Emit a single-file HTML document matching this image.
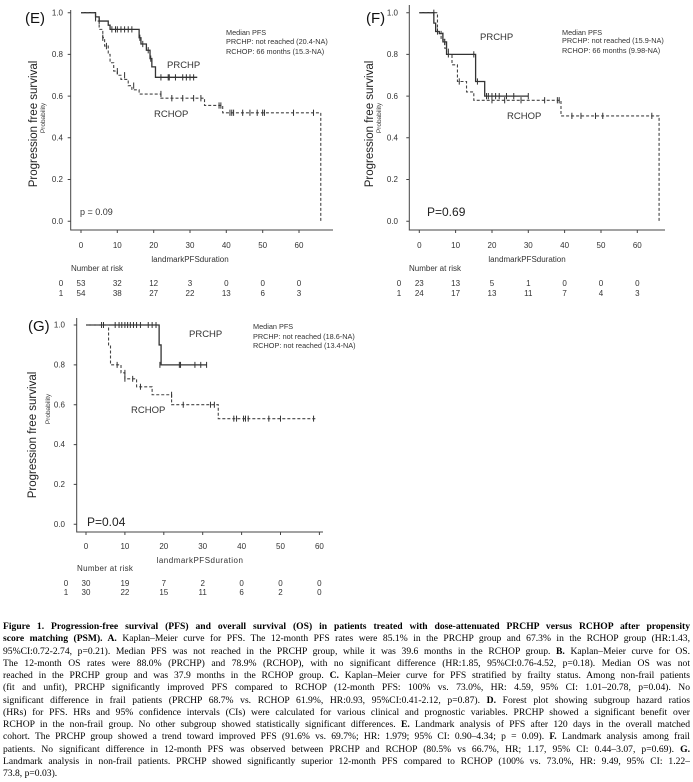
<!DOCTYPE html>
<html><head><meta charset="utf-8">
<style>
body{margin:0;background:#fff;width:693px;height:782px;overflow:hidden;position:relative;font-family:"Liberation Sans",sans-serif}
svg{position:absolute;left:0;top:0}
.cap{position:absolute;left:3px;top:621px;width:687px;font-family:"Liberation Serif",serif;font-size:9.6px;line-height:12.25px;color:#000}
.cap div{text-align:justify;text-align-last:justify;white-space:nowrap;overflow:hidden}
.cap div.l{text-align-last:left}
</style></head><body>
<svg width="693" height="782" viewBox="0 0 693 782" font-family="Liberation Sans, sans-serif">
<defs>
<style>
.ax{stroke:#444;stroke-width:1;fill:none}
.s{stroke:#333;stroke-width:1.3;fill:none;vector-effect:non-scaling-stroke}
.d{stroke:#444;stroke-width:1.1;fill:none;stroke-dasharray:3 2;vector-effect:non-scaling-stroke}
.c{stroke:#333;stroke-width:1;fill:none;vector-effect:non-scaling-stroke}
.t{font-size:8px;fill:#333}
.m{font-size:7.3px;fill:#333}
.lb{font-size:9.5px;fill:#333}
</style>
</defs>

<!-- ===== Panel E ===== -->
<text x="25" y="23" font-size="15" fill="#111">(E)</text>
<path class="ax" d="M70.7 10 V230 H333 M70.7 12.7 h-3 M70.7 54.4 h-3 M70.7 96.1 h-3 M70.7 137.8 h-3 M70.7 179.5 h-3 M70.7 221.2 h-3 M81 230 v3 M117.3 230 v3 M153.7 230 v3 M190 230 v3 M226.3 230 v3 M262.7 230 v3 M299 230 v3"/>
<g class="t" text-anchor="end"><text x="63" y="15.5">1.0</text><text x="63" y="57">0.8</text><text x="63" y="99">0.6</text><text x="63" y="140.5">0.4</text><text x="63" y="182">0.2</text><text x="63" y="224">0.0</text></g>
<g class="t" text-anchor="middle"><text x="81" y="248">0</text><text x="117.3" y="248">10</text><text x="153.7" y="248">20</text><text x="190" y="248">30</text><text x="226.3" y="248">40</text><text x="262.7" y="248">50</text><text x="299" y="248">60</text>
<text x="190" y="262">landmarkPFSduration</text>
<text x="61" y="286">0</text><text x="81" y="286">53</text><text x="117.3" y="286">32</text><text x="153.7" y="286">12</text><text x="190" y="286">3</text><text x="226.3" y="286">0</text><text x="262.7" y="286">0</text><text x="299" y="286">0</text>
<text x="61" y="296">1</text><text x="81" y="296">54</text><text x="117.3" y="296">38</text><text x="153.7" y="296">27</text><text x="190" y="296">22</text><text x="226.3" y="296">13</text><text x="262.7" y="296">6</text><text x="299" y="296">3</text></g>
<text x="71" y="271" class="t">Number at risk</text>
<text transform="translate(37,124) rotate(-90)" font-size="11.5" fill="#222" text-anchor="middle">Progression free survival</text>
<text transform="translate(45,118) rotate(-90)" font-size="6.5" fill="#444" text-anchor="middle">Probability</text>
<g class="m"><text x="226" y="35">Median PFS</text><text x="226" y="44">PRCHP: not reached (20.4-NA)</text><text x="226" y="54">RCHOP: 66 months  (15.3-NA)</text></g>
<text x="167" y="68" class="lb">PRCHP</text><text x="154" y="117" class="lb">RCHOP</text>
<text x="80" y="215" font-size="9" fill="#333">p = 0.09</text>
<g transform="translate(81,221.2) scale(3.633,-208.5)">
<path class="s" d="M0 1 H4 V0.98 H5 V0.96 H7.5 V0.94 H8 V0.92 H16 V0.88 H16.5 V0.85 H18 V0.82 H19 V0.78 H19.5 V0.74 H20.5 V0.69 H32"/>
<path class="d" d="M0 1 H4 V0.96 H5 V0.92 H6 V0.88 H6.5 V0.84 H7.5 V0.8 H8 V0.76 H9 V0.72 H10 V0.7 H11 V0.68 H13 V0.65 H14 V0.63 H16 V0.61 H17 V0.61 H22 V0.59 H34 V0.555 H39 V0.52 H66 V0"/>
<path class="c" d="M4 0.965V0.995 M5 0.945V0.975 M8.5 0.905V0.935 M9.5 0.905V0.935 M10 0.905V0.935 M11 0.905V0.935 M12 0.905V0.935 M13 0.905V0.935 M14 0.905V0.935 M16.2 0.865V0.895 M17 0.835V0.865 M18.5 0.805V0.835 M19.2 0.765V0.795 M22 0.675V0.705 M24 0.675V0.705 M24.3 0.675V0.705 M26 0.675V0.705 M28 0.675V0.705 M29 0.675V0.705 M30 0.675V0.705 M31 0.675V0.705 M6 0.865V0.895 M7 0.825V0.855 M10 0.705V0.735 M12 0.685V0.715 M14.5 0.635V0.665 M22 0.595V0.625 M25 0.575V0.605 M28 0.575V0.605 M31 0.575V0.605 M33 0.575V0.605 M38 0.54V0.57 M38.5 0.54V0.57 M41 0.505V0.535 M41.5 0.505V0.535 M42 0.505V0.535 M44.5 0.505V0.535 M46.5 0.505V0.535 M48.5 0.505V0.535 M50 0.505V0.535 M50.5 0.505V0.535 M58.5 0.505V0.535 M64 0.505V0.535"/>
</g>

<!-- ===== Panel F ===== -->
<text x="366" y="23" font-size="15" fill="#111">(F)</text>
<path class="ax" d="M409.3 5 V230 H665 M409.3 12.7 h-3 M409.3 54.4 h-3 M409.3 96.1 h-3 M409.3 137.8 h-3 M409.3 179.5 h-3 M409.3 221.2 h-3 M419.3 230 v3 M455.6 230 v3 M492 230 v3 M528.3 230 v3 M564.6 230 v3 M601 230 v3 M637.3 230 v3"/>
<g class="t" text-anchor="end"><text x="398" y="15.5">1.0</text><text x="398" y="57">0.8</text><text x="398" y="99">0.6</text><text x="398" y="140.5">0.4</text><text x="398" y="182">0.2</text><text x="398" y="224">0.0</text></g>
<g class="t" text-anchor="middle"><text x="419.3" y="248">0</text><text x="455.6" y="248">10</text><text x="492" y="248">20</text><text x="528.3" y="248">30</text><text x="564.6" y="248">40</text><text x="601" y="248">50</text><text x="637.3" y="248">60</text>
<text x="527" y="262">landmarkPFSduration</text>
<text x="399" y="286">0</text><text x="419.3" y="286">23</text><text x="455.6" y="286">13</text><text x="492" y="286">5</text><text x="528.3" y="286">1</text><text x="564.6" y="286">0</text><text x="601" y="286">0</text><text x="637.3" y="286">0</text>
<text x="399" y="296">1</text><text x="419.3" y="296">24</text><text x="455.6" y="296">17</text><text x="492" y="296">13</text><text x="528.3" y="296">11</text><text x="564.6" y="296">7</text><text x="601" y="296">4</text><text x="637.3" y="296">3</text></g>
<text x="409" y="271" class="t">Number at risk</text>
<text transform="translate(373,124) rotate(-90)" font-size="11.5" fill="#222" text-anchor="middle">Progression free survival</text>
<text transform="translate(381,118) rotate(-90)" font-size="6.5" fill="#444" text-anchor="middle">Probability</text>
<g class="m"><text x="562" y="35">Median PFS</text><text x="562" y="43">PRCHP: not reached (15.9-NA)</text><text x="562" y="53">RCHOP: 66 months  (9.98-NA)</text></g>
<text x="480" y="40" class="lb">PRCHP</text><text x="507" y="119" class="lb">RCHOP</text>
<text x="427" y="216" font-size="12" fill="#222">P=0.69</text>
<g transform="translate(419.3,221.2) scale(3.633,-208.5)">
<path class="s" d="M0 1 H4 V0.95 H4.5 V0.91 H5.5 V0.9 H6.5 V0.86 H7.5 V0.8 H15.5 V0.67 H18 V0.6 H30"/>
<path class="d" d="M0 1 H5 V0.91 H6 V0.87 H7 V0.83 H8 V0.8 H9 V0.75 H10.5 V0.67 H13 V0.62 H15 V0.58 H39 V0.505 H66 V0"/>
<path class="c" d="M4 0.985V1.015 M5 0.895V0.925 M6.5 0.875V0.905 M7 0.845V0.875 M8 0.785V0.815 M15 0.785V0.815 M16 0.655V0.685 M18.5 0.585V0.615 M19 0.585V0.615 M20 0.585V0.615 M21 0.585V0.615 M22 0.585V0.615 M24 0.585V0.615 M26 0.585V0.615 M30 0.585V0.615 M11 0.655V0.685 M20 0.565V0.595 M23.5 0.565V0.595 M28 0.565V0.595 M34.5 0.565V0.595 M38 0.565V0.595 M38.5 0.565V0.595 M42 0.49V0.52 M44.5 0.49V0.52 M48.5 0.49V0.52 M50.5 0.49V0.52 M64 0.49V0.52"/>
</g>

<!-- ===== Panel G ===== -->
<text x="28" y="331" font-size="15" fill="#111">(G)</text>
<path class="ax" d="M76.7 318 V532 H323 M76.7 325 h-3 M76.7 364.9 h-3 M76.7 404.7 h-3 M76.7 444.6 h-3 M76.7 484.4 h-3 M76.7 524.3 h-3 M86 532 v3 M124.9 532 v3 M163.8 532 v3 M202.7 532 v3 M241.6 532 v3 M280.5 532 v3 M319.4 532 v3"/>
<g class="t" text-anchor="end" font-size="7.5"><text x="65" y="327.5">1.0</text><text x="65" y="367.5">0.8</text><text x="65" y="407.5">0.6</text><text x="65" y="447">0.4</text><text x="65" y="487">0.2</text><text x="65" y="527">0.0</text></g>
<g class="t" text-anchor="middle" font-size="7.5"><text x="86" y="549">0</text><text x="124.9" y="549">10</text><text x="163.8" y="549">20</text><text x="202.7" y="549">30</text><text x="241.6" y="549">40</text><text x="280.5" y="549">50</text><text x="319.4" y="549">60</text>
<text x="200" y="563" letter-spacing="0.5">landmarkPFSduration</text>
<text x="66" y="586">0</text><text x="86" y="586">30</text><text x="124.9" y="586">19</text><text x="163.8" y="586">7</text><text x="202.7" y="586">2</text><text x="241.6" y="586">0</text><text x="280.5" y="586">0</text><text x="319.4" y="586">0</text>
<text x="66" y="595">1</text><text x="86" y="595">30</text><text x="124.9" y="595">22</text><text x="163.8" y="595">15</text><text x="202.7" y="595">11</text><text x="241.6" y="595">6</text><text x="280.5" y="595">2</text><text x="319.4" y="595">0</text></g>
<text x="77" y="571" class="t" font-size="7.5" letter-spacing="0.3">Number at risk</text>
<text transform="translate(36,435) rotate(-90)" font-size="11.5" fill="#222" text-anchor="middle">Progression free survival</text>
<text transform="translate(50,409) rotate(-90)" font-size="6.5" fill="#444" text-anchor="middle">Probability</text>
<g class="m"><text x="253" y="329">Median PFS</text><text x="253" y="339">PRCHP: not reached (18.6-NA)</text><text x="253" y="348">RCHOP: not reached (13.4-NA)</text></g>
<text x="189" y="337" class="lb">PRCHP</text><text x="131" y="413" class="lb">RCHOP</text>
<text x="87" y="526" font-size="12" fill="#222">P=0.04</text>
<g transform="translate(86,524.3) scale(3.89,-199.3)">
<path class="s" d="M0 1 H18.8 V0.9 H19.3 V0.8 H31"/>
<path class="d" d="M0 1 H5.8 V0.9 H6.3 V0.8 H9 V0.76 H10 V0.73 H13 V0.69 H17 V0.65 H22 V0.6 H34 V0.53 H59"/>
<path class="c" d="M4 0.985V1.015 M4.5 0.985V1.015 M7.5 0.985V1.015 M8.5 0.985V1.015 M9.2 0.985V1.015 M10 0.985V1.015 M10.7 0.985V1.015 M11.4 0.985V1.015 M12.2 0.985V1.015 M13 0.985V1.015 M14 0.985V1.015 M16 0.985V1.015 M17 0.985V1.015 M18 0.985V1.015 M19 0.785V0.815 M24 0.785V0.815 M24.3 0.785V0.815 M28 0.785V0.815 M29.5 0.785V0.815 M31 0.785V0.815 M8 0.785V0.815 M10 0.745V0.775 M10 0.715V0.745 M12 0.715V0.745 M14 0.675V0.705 M22 0.635V0.665 M25 0.585V0.615 M32 0.585V0.615 M33 0.585V0.615 M38 0.515V0.545 M38.7 0.515V0.545 M40.5 0.515V0.545 M41 0.515V0.545 M41.7 0.515V0.545 M47 0.515V0.545 M50 0.515V0.545 M58.5 0.515V0.545"/>
</g>
</svg>

<div class="cap">
<div><b>Figure 1. Progression-free survival (PFS) and overall survival (OS) in patients treated with dose-attenuated PRCHP versus RCHOP after propensity</b></div>
<div><b>score matching (PSM). A.</b> Kaplan–Meier curve for PFS. The 12-month PFS rates were 85.1% in the PRCHP group and 67.3% in the RCHOP group (HR:1.43,</div>
<div>95%CI:0.72-2.74, p=0.21). Median PFS was not reached in the PRCHP group, while it was 39.6 months in the RCHOP group. <b>B.</b> Kaplan–Meier curve for OS.</div>
<div>The 12-month OS rates were 88.0% (PRCHP) and 78.9% (RCHOP), with no significant difference (HR:1.85, 95%CI:0.76-4.52, p=0.18). Median OS was not</div>
<div>reached in the PRCHP group and was 37.9 months in the RCHOP group. <b>C.</b> Kaplan–Meier curve for PFS stratified by frailty status. Among non-frail patients</div>
<div>(fit and unfit), PRCHP significantly improved PFS compared to RCHOP (12-month PFS: 100% vs. 73.0%, HR: 4.59, 95% CI: 1.01–20.78, p=0.04). No</div>
<div>significant difference in frail patients (PRCHP 68.7% vs. RCHOP 61.9%, HR:0.93, 95%CI:0.41-2.12, p=0.87). <b>D.</b> Forest plot showing subgroup hazard ratios</div>
<div>(HRs) for PFS. HRs and 95% confidence intervals (CIs) were calculated for various clinical and prognostic variables. PRCHP showed a significant benefit over</div>
<div>RCHOP in the non-frail group. No other subgroup showed statistically significant differences. <b>E.</b> Landmark analysis of PFS after 120 days in the overall matched</div>
<div>cohort. The PRCHP group showed a trend toward improved PFS (91.6% vs. 69.7%; HR: 1.979; 95% CI: 0.90–4.34; p = 0.09). <b>F.</b> Landmark analysis among frail</div>
<div>patients. No significant difference in 12-month PFS was observed between PRCHP and RCHOP (80.5% vs 66.7%, HR; 1.17, 95% CI: 0.44–3.07, p=0.69). <b>G.</b></div>
<div>Landmark analysis in non-frail patients. PRCHP showed significantly superior 12-month PFS compared to RCHOP (100% vs. 73.0%, HR: 9.49, 95% CI: 1.22–</div>
<div class="l">73.8, p=0.03).</div>
</div>
</body></html>
